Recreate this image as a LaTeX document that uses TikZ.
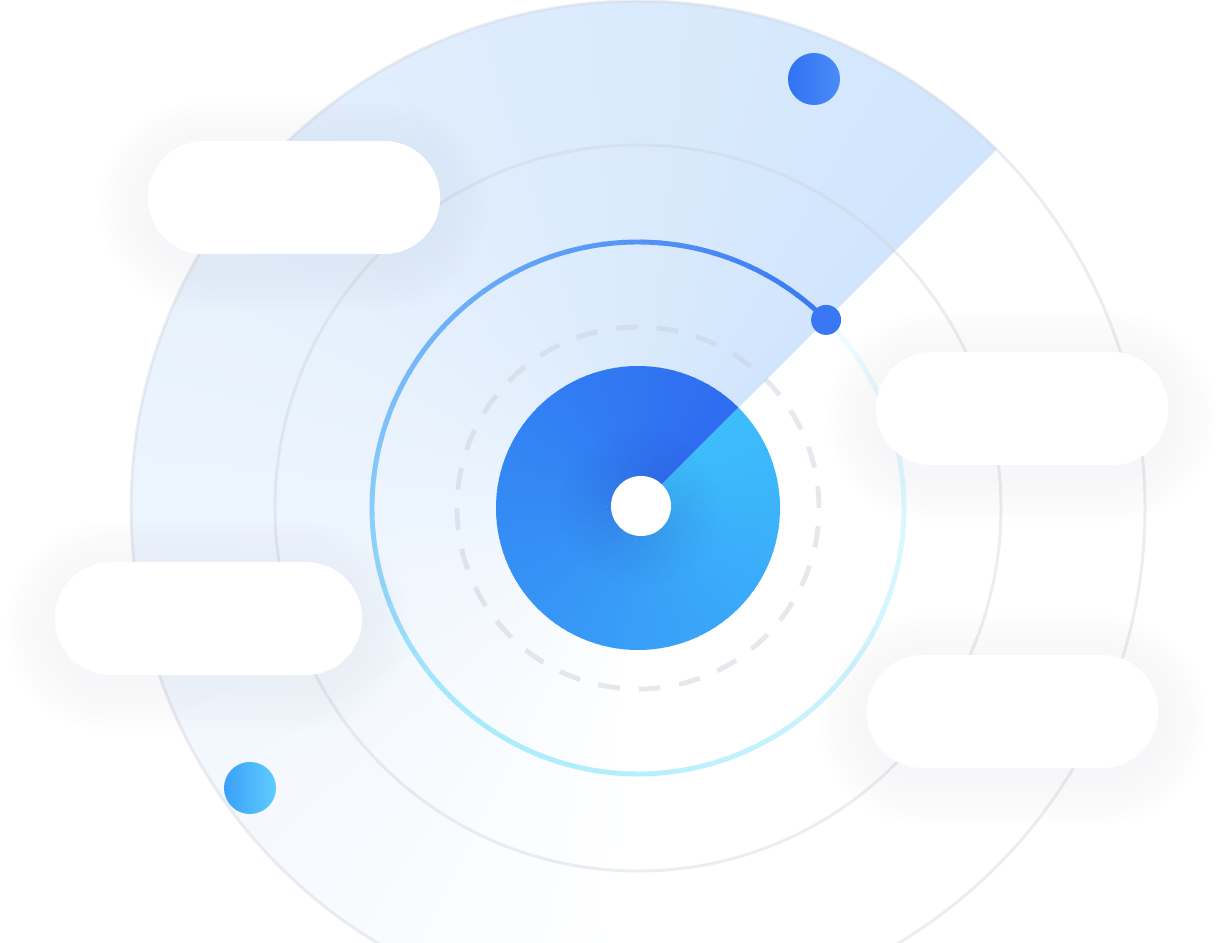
\documentclass[tikz,border=0pt]{standalone}
\usetikzlibrary{fadings}

\definecolor{sectorblue}{RGB}{209,229,252}
\definecolor{ringgray}{RGB}{205,210,220}
\definecolor{discdark}{RGB}{47,108,240}
\definecolor{disclight}{RGB}{61,189,252}
\definecolor{arcA}{RGB}{58,120,243}
\definecolor{arcB}{RGB}{165,235,252}
\definecolor{arcC}{RGB}{240,252,255}

\tikzfading[name=holefade, inner color=transparent!0, outer color=transparent!100]

\pgfdeclarelayer{shade}
\pgfdeclarelayer{front}
\pgfsetlayers{main,shade,front}

\tikzset{
  ring/.style={draw=ringgray, draw opacity=0.4, line width=0.85pt},
  pill/.style={fill=white, rounded corners=0.56cm, minimum height=1.13cm, inner sep=0pt},
  dot/.style={circle, inner sep=0pt, minimum size=0.52cm}
}

\begin{document}
\begin{tikzpicture}[x=0.01cm, y=0.01cm]
    \useasboundingbox (0,0) rectangle (1224,942);
    \clip (0,0) rectangle (1224,942);
    \coordinate (c) at (638,434);

    % Sector
    \foreach \i in {0,...,74} {
      \pgfmathsetmacro\p{100-\i*100/74}
      \fill[sectorblue!\p!white] (c) -- ++({45+3*\i}:507)
        arc[start angle={45+3*\i}, end angle={48.6+3*\i}, radius=507] -- cycle;
    }

    % Rings
    \draw[ring] (c) circle (507);
    \draw[ring] (c) circle (363);
    \draw[ringgray, draw opacity=0.5, line width=1.4pt, dash pattern=on 6.2pt off 5.36pt] (c) circle (181);

    % Gradient arc
    \foreach \i in {0,...,44} {
      \pgfmathsetmacro\p{\i*100/45}
      \draw[arcB!\p!arcA, line width=1.4pt] (c) ++({45+4*\i}:266)
        arc[start angle={45+4*\i}, end angle={49.5+4*\i}, radius=266];
    }
    \foreach \i in {45,...,89} {
      \pgfmathsetmacro\p{(\i-45)*100/45}
      \draw[arcC!\p!arcB, line width=1.4pt] (c) ++({45+4*\i}:266)
        arc[start angle={45+4*\i}, end angle={min(49.5+4*\i,405)}, radius=266];
    }

    % Disc
    \foreach \i in {0,...,119} {
      \pgfmathsetmacro\p{\i*100/119}
      \fill[disclight!\p!discdark] (c) -- ++({45+3*\i}:142)
        arc[start angle={45+3*\i}, end angle={min(48.6+3*\i,405)}, radius=142] -- cycle;
    }
    \fill[discdark!70!black, fill opacity=0.22, path fading=holefade] (c) circle (80);
    \node[circle, fill=white, inner sep=0pt, minimum size=0.6cm] (hole) at ([shift={(3,2)}]c) {};

    % Dots
    \node[dot, minimum size=0.3cm, fill=arcA] (tip) at ([shift={(45:266)}]c) {};
    \node[dot, left color={rgb,255:red,50;green,114;blue,242}, right color={rgb,255:red,74;green,140;blue,248}] (dotA) at (814,863) {};
    \node[dot, left color={rgb,255:red,58;green,160;blue,248}, right color={rgb,255:red,94;green,205;blue,254}] (dotB) at (250,154) {};

    % Pills
    \begin{pgfonlayer}{front}
      \node[pill, minimum width=2.92cm] (pillA) at (294,744.5) {};
      \node[pill, minimum width=2.92cm] (pillB) at (1022,533.5) {};
      \node[pill, minimum width=3.07cm] (pillC) at (208.5,323.5) {};
      \node[pill, minimum width=2.91cm] (pillD) at (1012.5,230.5) {};
    \end{pgfonlayer}

    % Shadows
    \begin{pgfonlayer}{shade}
      \begin{scope}[transparency group, opacity=0.045]
        \foreach \n in {pillA,pillB,pillC,pillD}
          \foreach \k in {1,...,12} {
            \pgfmathsetmacro\rr{0.565+\k*0.04}
            \fill[black!80!blue, fill opacity=0.1, rounded corners=\rr cm]
              ([shift={(-\k*4,-\k*4-8)}]\n.south west) rectangle ([shift={(\k*4,\k*4-8)}]\n.north east);
          }
      \end{scope}
    \end{pgfonlayer}

\end{tikzpicture}
\end{document}
